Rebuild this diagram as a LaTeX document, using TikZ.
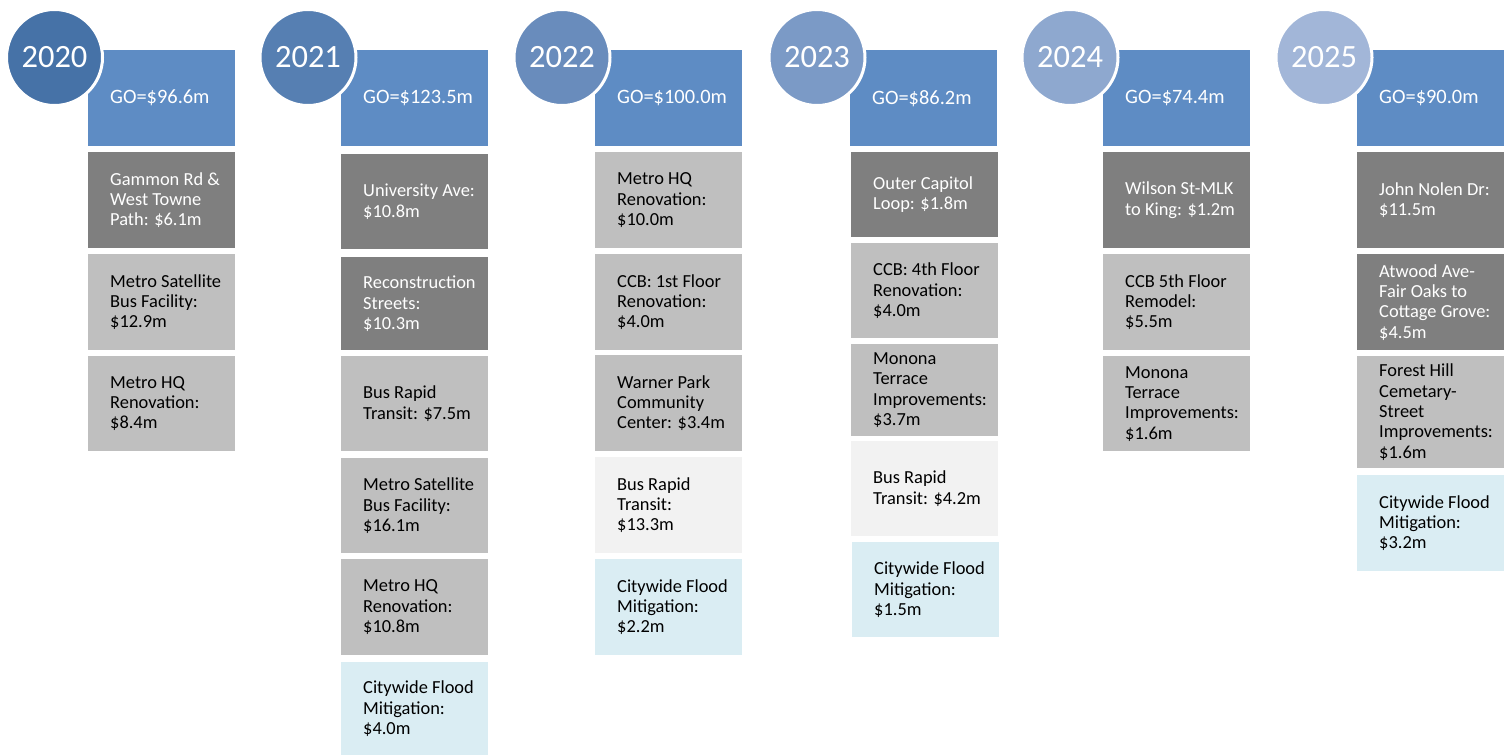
\documentclass[tikz,border=0pt]{standalone}
\usepackage{fontspec}
\setmainfont{Carlito}
\definecolor{yc0}{RGB}{70,114,167}
\definecolor{yc1}{RGB}{86,127,178}
\definecolor{yc2}{RGB}{105,140,188}
\definecolor{yc3}{RGB}{123,154,198}
\definecolor{yc4}{RGB}{142,168,207}
\definecolor{yc5}{RGB}{162,182,216}
\definecolor{goblue}{RGB}{94,140,196}
\definecolor{dkgray}{RGB}{127,127,127}
\definecolor{ltgray}{RGB}{191,191,191}
\definecolor{palegray}{RGB}{242,242,242}
\definecolor{floodblue}{RGB}{218,237,243}
\newcommand\bx[6]{%
  \node[box,#5fill,minimum height=#4-#3] (#1) at (#2,#3) {};
  \node[txt,#5txt] (#1t) at ([xshift=22pt]#1.west) {#6};}
\newcommand\yr[4]{\node[yearc,fill=#3] (#1) at (#2) {#4};}
\begin{document}
\begin{tikzpicture}[x=1pt,y=-1pt,
  box/.style={rectangle,inner sep=0pt,minimum width=147,anchor=north west},
  txt/.style={inner sep=0pt,align=left,anchor=west,font=\fontsize{18.4}{20.3}\selectfont},
  gofill/.style={fill=goblue},
  gotxt/.style={text=white,font=\fontsize{20.4}{22}\selectfont},
  darkfill/.style={fill=dkgray},
  darktxt/.style={text=white},
  lightfill/.style={fill=ltgray},
  lighttxt/.style={text=black},
  palefill/.style={fill=palegray},
  paletxt/.style={text=black},
  floodfill/.style={fill=floodblue},
  floodtxt/.style={text=black},
  yearc/.style={circle,draw=white,line width=3pt,minimum size=96,inner sep=0pt,text=white,font=\fontsize{32.5}{36}\selectfont}
]
\useasboundingbox[fill=white] (0,0) rectangle (1510,755);
% 2020
\bx{a0}{88}{50}{146}{go}{GO=\$96.6m}
\bx{a1}{88}{152}{248}{dark}{Gammon Rd \&\\West Towne\\Path: \$6.1m}
\bx{a2}{88}{254}{350}{light}{Metro Satellite\\Bus Facility:\\\$12.9m}
\bx{a3}{88}{356}{451}{light}{Metro HQ\\Renovation:\\\$8.4m}
\yr{y0}{54.5,57.5}{yc0}{2020}
% 2021
\bx{b0}{341}{50}{146}{go}{GO=\$123.5m}
\bx{b1}{341}{154}{249}{dark}{University Ave:\\\$10.8m}
\bx{b2}{341}{257}{350}{dark}{Reconstruction\\Streets:\\\$10.3m}
\bx{b3}{341}{356}{451}{light}{Bus Rapid\\Transit: \$7.5m}
\bx{b4}{341}{458}{553}{light}{Metro Satellite\\Bus Facility:\\\$16.1m}
\bx{b5}{341}{559}{655}{light}{Metro HQ\\Renovation:\\\$10.8m}
\bx{b6}{341}{662}{755}{flood}{Citywide Flood\\Mitigation:\\\$4.0m}
\yr{y1}{308,57.5}{yc1}{2021}
% 2022
\bx{c0}{595}{50}{146}{go}{GO=\$100.0m}
\bx{c1}{595}{152}{248}{light}{Metro HQ\\Renovation:\\\$10.0m}
\bx{c2}{595}{254}{350}{light}{CCB: 1st Floor\\Renovation:\\\$4.0m}
\bx{c3}{595}{355}{451}{light}{Warner Park\\Community\\Center: \$3.4m}
\bx{c4}{595}{457}{553}{pale}{Bus Rapid\\Transit:\\\$13.3m}
\bx{c5}{595}{559}{655}{flood}{Citywide Flood\\Mitigation:\\\$2.2m}
\yr{y2}{562,57.5}{yc2}{2022}
% 2023
\bx{d0}{850}{50}{146}{go}{GO=\$86.2m}
\bx{d1}{851}{152}{237}{dark}{Outer Capitol\\Loop: \$1.8m}
\bx{d2}{851}{243}{338}{light}{CCB: 4th Floor\\Renovation:\\\$4.0m}
\bx{d3}{851}{344}{436}{light}{Monona\\Terrace\\Improvements:\\\$3.7m}
\bx{d4}{851}{441}{536}{pale}{Bus Rapid\\Transit: \$4.2m}
\bx{d5}{852}{542}{637}{flood}{Citywide Flood\\Mitigation:\\\$1.5m}
\yr{y3}{817,57.5}{yc3}{2023}
% 2024
\bx{e0}{1103}{50}{146}{go}{GO=\$74.4m}
\bx{e1}{1103}{152}{248}{dark}{Wilson St-MLK\\to King: \$1.2m}
\bx{e2}{1103}{254}{350}{light}{CCB 5th Floor\\Remodel:\\\$5.5m}
\bx{e3}{1103}{356}{451}{light}{Monona\\Terrace\\Improvements:\\\$1.6m}
\yr{y4}{1070,57.5}{yc4}{2024}
% 2025
\bx{f0}{1357}{50}{146}{go}{GO=\$90.0m}
\bx{f1}{1357}{152}{248}{dark}{John Nolen Dr:\\\$11.5m}
\bx{f2}{1357}{254}{350}{dark}{Atwood Ave-\\Fair Oaks to\\Cottage Grove:\\\$4.5m}
\bx{f3}{1357}{356}{468}{light}{Forest Hill\\Cemetary-\\Street\\Improvements:\\\$1.6m}
\bx{f4}{1357}{475}{571}{flood}{Citywide Flood\\Mitigation:\\\$3.2m}
\yr{y5}{1324,57.5}{yc5}{2025}
\end{tikzpicture}
\end{document}
